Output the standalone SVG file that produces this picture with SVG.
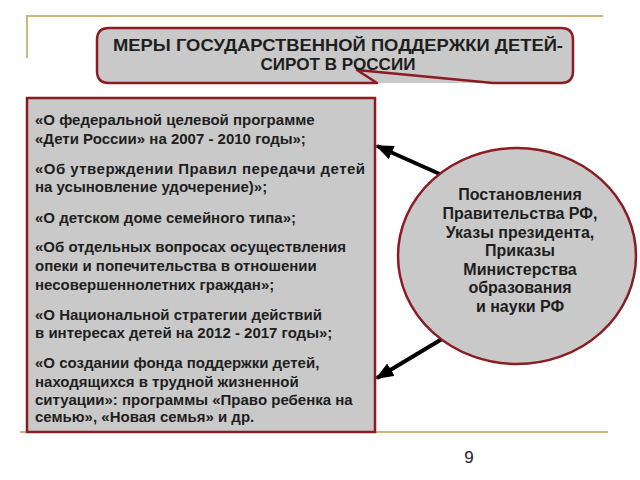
<svg xmlns="http://www.w3.org/2000/svg" width="640" height="480" viewBox="0 0 640 480">
<defs>
<marker id="ah" viewBox="0 0 10 8" refX="9" refY="4" markerWidth="4.5" markerHeight="3.6" orient="auto" markerUnits="strokeWidth">
<path d="M0,0 L10,4 L0,8 z" fill="#000"/>
</marker>
<style>
.gold{stroke:#cdb77a;stroke-width:2;fill:none}
.box{fill:#c9c9c9;stroke:#8a1c22;stroke-width:2.5}
.t{font-family:"Liberation Sans",Arial,sans-serif;font-weight:bold;font-size:15px;fill:#1e1e1e}
.e{font-family:"Liberation Sans",Arial,sans-serif;font-weight:bold;font-size:16px;fill:#1e1e1e;text-anchor:middle}
.h{font-family:"Liberation Sans",Arial,sans-serif;font-weight:bold;font-size:17px;fill:#1e1e1e;text-anchor:middle}
.conn{stroke:#000;stroke-width:4;fill:none;marker-end:url(#ah)}
</style>
</defs>
<rect width="640" height="480" fill="#fff"/>
<path class="gold" d="M26,16 H603 M27,16 V58 M20,432 H608"/>
<g id="title">
<rect x="97" y="28" width="476" height="55" rx="12" fill="#c9c9c9"/>
<path d="M377,83 H109 Q97,83 97,71 V40 Q97,28 109,28 H561 Q573,28 573,40 V71 Q573,83 561,83 H493 L357,70 Z" fill="#c9c9c9" stroke="#8a1c22" stroke-width="2.5" stroke-linejoin="round"/>
<text class="h" x="338" y="51" textLength="450" lengthAdjust="spacingAndGlyphs">МЕРЫ ГОСУДАРСТВЕННОЙ ПОДДЕРЖКИ ДЕТЕЙ-</text>
<text class="h" x="338" y="70" textLength="155" lengthAdjust="spacingAndGlyphs">СИРОТ В РОССИИ</text>
</g>
<g id="list">
<rect class="box" x="27" y="98" width="348" height="334"/>
<text class="t" x="35" y="124.5">«О федеральной целевой программе</text>
<text class="t" x="35" y="143.5">«Дети России» на 2007 - 2010 годы»;</text>
<text class="t" x="35" y="174" textLength="330" lengthAdjust="spacing">«Об утверждении Правил передачи детей</text>
<text class="t" x="35" y="192">на  усыновление удочерение)»;</text>
<text class="t" x="35" y="223">«О детском доме семейного типа»;</text>
<text class="t" x="35" y="252">«Об отдельных вопросах осуществления</text>
<text class="t" x="35" y="271">опеки и попечительства в отношении</text>
<text class="t" x="35" y="290">несовершеннолетних граждан»;</text>
<text class="t" x="35" y="320">«О Национальной стратегии действий</text>
<text class="t" x="35" y="338">в интересах детей на 2012 - 2017 годы»;</text>
<text class="t" x="35" y="368">«О создании фонда поддержки детей,</text>
<text class="t" x="35" y="387">находящихся в трудной жизненной</text>
<text class="t" x="35" y="405">ситуации»: программы «Право ребенка  на</text>
<text class="t" x="35" y="422">семью», «Новая  семья» и др.</text>
</g>
<g id="connectors">
<line class="conn" x1="442" y1="175" x2="377" y2="146"/>
<line class="conn" x1="442" y1="339" x2="377" y2="378"/>
</g>
<g id="source">
<ellipse cx="517" cy="256" rx="119" ry="108" fill="#c9c9c9" stroke="#8a1c22" stroke-width="2.5"/>
<text class="e" x="520" y="200">Постановления</text>
<text class="e" x="520" y="219">Правительства РФ,</text>
<text class="e" x="520" y="238">Указы президента,</text>
<text class="e" x="520" y="256">Приказы</text>
<text class="e" x="520" y="275">Министерства</text>
<text class="e" x="520" y="293">образования</text>
<text class="e" x="520" y="312">и науки РФ</text>
</g>
<text x="469" y="463" font-family="Liberation Sans,Arial,sans-serif" font-size="17" fill="#222" text-anchor="middle">9</text>
</svg>
